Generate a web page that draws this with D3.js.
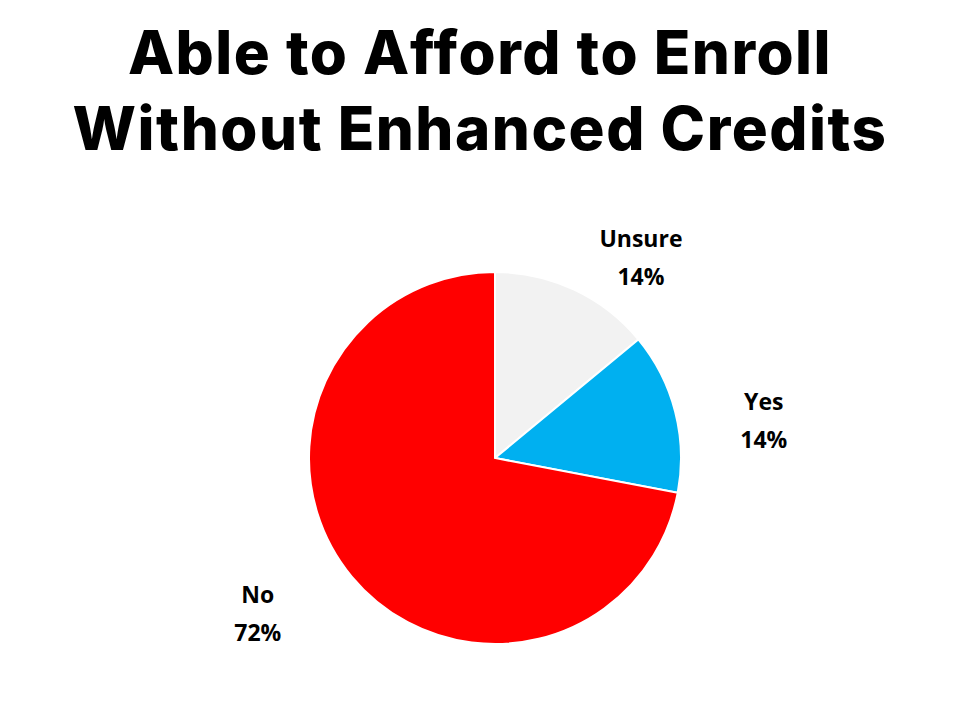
<!DOCTYPE html>
<html><head><meta charset="utf-8">
<script src="https://cdn.jsdelivr.net/npm/d3@7"></script>
<style>body{margin:0;background:#fff}</style>
</head><body>
<svg id="chart" width="960" height="720"></svg>
<script>
// Chart data
var categories = ["Unsure", "Yes", "No"];
var values = [14, 14, 72];
var colors = ["#f2f2f2", "#00b0f0", "#ff0000"];
var titleLines = ["Able to Afford to Enroll", "Without Enhanced Credits"];

// Label nudges so text sits where the original put it
var labelShift = {Unsure: [48, 2], Yes: [46, 14], No: [-60, 3]};

var svg = d3.select("#chart");
var cx = 495, cy = 458, radius = 186;

svg.selectAll("text.title")
  .data(titleLines)
  .enter()
  .append("text")
  .attr("class", "title")
  .attr("x", 480)
  .attr("y", function (d, i) { return 74 + i * 76; })
  .attr("text-anchor", "middle")
  .attr("font-family", "Inter, 'Open Sans', sans-serif")
  .attr("font-weight", 800)
  .attr("font-size", 60)
  .attr("letter-spacing", 1.5)
  .text(function (d) { return d; });

var pie = d3.pie().sort(null).value(function (d) { return d; });
var arcs = pie(values);
var arc = d3.arc().innerRadius(0).outerRadius(radius);
var labelArc = d3.arc().innerRadius(230).outerRadius(230);

var g = svg.append("g").attr("transform", "translate(" + cx + "," + cy + ")");

g.selectAll("path")
  .data(arcs)
  .enter()
  .append("path")
  .attr("d", arc)
  .attr("fill", function (d, i) { return colors[i]; })
  .attr("stroke", "#fff")
  .attr("stroke-width", 2);

var labels = g.selectAll("text.lbl")
  .data(arcs)
  .enter()
  .append("text")
  .attr("class", "lbl")
  .attr("text-anchor", "middle")
  .attr("font-family", "'Open Sans', sans-serif")
  .attr("font-weight", 700)
  .attr("font-size", 23)
  .attr("transform", function (d, i) {
    var c = labelArc.centroid(d), s = labelShift[categories[i]];
    return "translate(" + (c[0] + s[0]) + "," + (c[1] + s[1]) + ")";
  });

labels.append("tspan").attr("x", 0).attr("dy", "-0.2em")
  .text(function (d, i) { return categories[i]; });
labels.append("tspan").attr("x", 0).attr("dy", "1.65em")
  .text(function (d) { return d.value + "%"; });
</script>
</body></html>
